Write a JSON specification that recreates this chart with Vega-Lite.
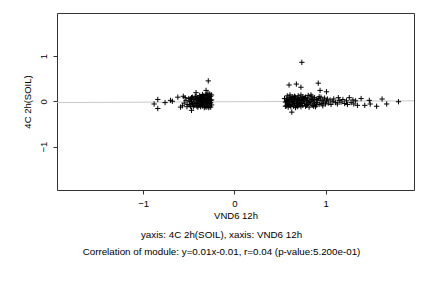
{
  "$schema": "https://vega.github.io/schema/vega-lite/v6.json",
  "width": 357,
  "height": 177,
  "autosize": {"type": "none"},
  "padding": {"left": 57, "top": 13, "right": 18, "bottom": 98},
  "background": "white",
  "config": {
    "view": {"stroke": "#333333", "strokeWidth": 1},
    "font": "Liberation Sans",
    "axis": {"labelFont": "Liberation Sans", "titleFont": "Liberation Sans", "labelFontSize": 9.5, "titleFontSize": 9.5, "titleFontWeight": "normal", "labelColor": "black", "titleColor": "black", "grid": false, "domain": false, "tickColor": "#333333", "tickSize": 4}
  },
  "title": {
    "text": "yaxis: 4C 2h(SOIL), xaxis: VND6 12h",
    "subtitle": "Correlation of module: y=0.01x-0.01, r=0.04 (p-value:5.200e-01)",
    "orient": "bottom",
    "anchor": "middle",
    "dx": -14,
    "offset": 10,
    "font": "Liberation Sans",
    "subtitleFont": "Liberation Sans",
    "fontSize": 9.8,
    "subtitleFontSize": 9.8,
    "fontWeight": "normal",
    "color": "black",
    "subtitleColor": "black",
    "subtitlePadding": 7
  },
  "layer": [
    {
      "data": {"values": [{"x": -1.945, "y": -0.0295}, {"x": 1.97, "y": 0.0097}]},
      "mark": {"type": "line", "color": "#c8c8c8", "strokeWidth": 1, "clip": true},
      "encoding": {
        "x": {"field": "x", "type": "quantitative"},
        "y": {"field": "y", "type": "quantitative"}
      }
    },
    {
      "data": {"values": [
        {"x": -0.286, "y": 0.45}, {"x": -0.84, "y": 0.04}, {"x": -0.88, "y": -0.06}, {"x": -0.84, "y": -0.16}, {"x": -0.76, "y": -0.03}, {"x": -0.70, "y": 0.02}, {"x": -0.68, "y": 0.0}, {"x": -0.62, "y": 0.09}, {"x": -0.56, "y": 0.11}, {"x": -0.42, "y": 0.19}, {"x": -0.31, "y": 0.24}, {"x": -0.47, "y": -0.20},
        {"x": -0.26, "y": 0.02}, {"x": -0.27, "y": -0.05}, {"x": -0.28, "y": 0.10}, {"x": -0.29, "y": -0.12}, {"x": -0.30, "y": 0.05}, {"x": -0.31, "y": -0.08}, {"x": -0.32, "y": 0.13}, {"x": -0.33, "y": -0.03}, {"x": -0.34, "y": 0.07}, {"x": -0.35, "y": -0.10}, {"x": -0.36, "y": 0.01}, {"x": -0.37, "y": 0.09}, {"x": -0.38, "y": -0.06}, {"x": -0.39, "y": 0.03}, {"x": -0.40, "y": -0.13}, {"x": -0.41, "y": 0.06}, {"x": -0.42, "y": -0.02}, {"x": -0.43, "y": 0.11}, {"x": -0.44, "y": -0.09}, {"x": -0.45, "y": 0.04}, {"x": -0.46, "y": -0.05}, {"x": -0.47, "y": 0.08}, {"x": -0.48, "y": -0.11}, {"x": -0.49, "y": 0.00}, {"x": -0.50, "y": 0.06}, {"x": -0.51, "y": -0.07}, {"x": -0.52, "y": -0.12}, {"x": -0.53, "y": 0.02}, {"x": -0.55, "y": -0.04}, {"x": -0.57, "y": -0.10}, {"x": -0.59, "y": -0.13}, {"x": -0.54, "y": 0.08},
        {"x": -0.25, "y": 0.14}, {"x": -0.25, "y": -0.08}, {"x": -0.26, "y": 0.11}, {"x": -0.26, "y": -0.13}, {"x": -0.27, "y": 0.16}, {"x": -0.27, "y": 0.04}, {"x": -0.28, "y": -0.02}, {"x": -0.28, "y": -0.14}, {"x": -0.29, "y": 0.07}, {"x": -0.29, "y": 0.18}, {"x": -0.30, "y": -0.06}, {"x": -0.30, "y": 0.12}, {"x": -0.31, "y": 0.01}, {"x": -0.31, "y": 0.15}, {"x": -0.32, "y": -0.11}, {"x": -0.32, "y": 0.03}, {"x": -0.33, "y": 0.09}, {"x": -0.33, "y": -0.14}, {"x": -0.34, "y": -0.04}, {"x": -0.34, "y": 0.12}, {"x": -0.35, "y": 0.05}, {"x": -0.35, "y": 0.15}, {"x": -0.36, "y": -0.07}, {"x": -0.36, "y": 0.10}, {"x": -0.37, "y": -0.01}, {"x": -0.37, "y": -0.12}, {"x": -0.38, "y": 0.06}, {"x": -0.38, "y": 0.13}, {"x": -0.39, "y": -0.09}, {"x": -0.39, "y": 0.00}, {"x": -0.40, "y": 0.08}, {"x": -0.40, "y": 0.02}, {"x": -0.41, "y": -0.05}, {"x": -0.41, "y": -0.11}, {"x": -0.42, "y": 0.10}, {"x": -0.43, "y": -0.06}, {"x": -0.44, "y": 0.03}, {"x": -0.45, "y": -0.12}, {"x": -0.46, "y": 0.09}, {"x": -0.47, "y": -0.02}, {"x": -0.48, "y": 0.05}, {"x": -0.49, "y": -0.08}, {"x": -0.25, "y": 0.03}, {"x": -0.26, "y": -0.03}, {"x": -0.27, "y": -0.10}, {"x": -0.28, "y": 0.06}, {"x": -0.29, "y": -0.04}, {"x": -0.30, "y": 0.00}, {"x": -0.31, "y": -0.13}, {"x": -0.33, "y": 0.02}, {"x": -0.35, "y": -0.02}, {"x": -0.37, "y": 0.04},
        {"x": 0.74, "y": 0.86}, {"x": 0.60, "y": 0.36}, {"x": 0.68, "y": 0.38}, {"x": 0.73, "y": 0.31}, {"x": 0.92, "y": 0.40}, {"x": 0.94, "y": 0.24}, {"x": 1.01, "y": 0.21}, {"x": 0.63, "y": -0.24}, {"x": 1.80, "y": -0.01}, {"x": 1.67, "y": -0.06}, {"x": 1.62, "y": 0.05}, {"x": 1.56, "y": -0.11}, {"x": 1.49, "y": -0.06}, {"x": 1.48, "y": 0.02}, {"x": 1.39, "y": 0.06}, {"x": 1.43, "y": -0.09}, {"x": 1.33, "y": 0.01}, {"x": 1.35, "y": -0.09}, {"x": 1.26, "y": 0.08}, {"x": 1.14, "y": 0.08},
        {"x": 0.56, "y": -0.02}, {"x": 0.57, "y": 0.05}, {"x": 0.57, "y": -0.10}, {"x": 0.58, "y": 0.12}, {"x": 0.58, "y": -0.06}, {"x": 0.59, "y": 0.01}, {"x": 0.59, "y": -0.13}, {"x": 0.60, "y": 0.08}, {"x": 0.60, "y": -0.04}, {"x": 0.61, "y": 0.14}, {"x": 0.61, "y": -0.09}, {"x": 0.62, "y": 0.03}, {"x": 0.62, "y": -0.12}, {"x": 0.63, "y": 0.06}, {"x": 0.63, "y": -0.03}, {"x": 0.64, "y": 0.10}, {"x": 0.64, "y": -0.07}, {"x": 0.65, "y": 0.00}, {"x": 0.65, "y": -0.11}, {"x": 0.66, "y": 0.04}, {"x": 0.66, "y": -0.05}, {"x": 0.67, "y": 0.09}, {"x": 0.67, "y": -0.14}, {"x": 0.68, "y": 0.02}, {"x": 0.68, "y": -0.08}, {"x": 0.69, "y": 0.06}, {"x": 0.69, "y": -0.02}, {"x": 0.70, "y": 0.12}, {"x": 0.70, "y": -0.10}, {"x": 0.71, "y": 0.01}, {"x": 0.71, "y": -0.06}, {"x": 0.72, "y": 0.08}, {"x": 0.72, "y": -0.03}, {"x": 0.73, "y": 0.14}, {"x": 0.73, "y": -0.12}, {"x": 0.74, "y": 0.04}, {"x": 0.74, "y": -0.05}, {"x": 0.75, "y": 0.10}, {"x": 0.75, "y": -0.09}, {"x": 0.76, "y": 0.00}, {"x": 0.76, "y": 0.06}, {"x": 0.77, "y": -0.04}, {"x": 0.78, "y": 0.09}, {"x": 0.78, "y": -0.11}, {"x": 0.79, "y": 0.02}, {"x": 0.80, "y": -0.07}, {"x": 0.80, "y": 0.05}, {"x": 0.81, "y": 0.13}, {"x": 0.82, "y": -0.02}, {"x": 0.82, "y": -0.13}, {"x": 0.83, "y": 0.07}, {"x": 0.84, "y": -0.06}, {"x": 0.85, "y": 0.03}, {"x": 0.85, "y": 0.11}, {"x": 0.86, "y": -0.09}, {"x": 0.87, "y": 0.01}, {"x": 0.88, "y": -0.04}, {"x": 0.88, "y": 0.08}, {"x": 0.89, "y": -0.12}, {"x": 0.90, "y": 0.04}, {"x": 0.91, "y": -0.03}, {"x": 0.92, "y": 0.06}, {"x": 0.93, "y": -0.07}, {"x": 0.94, "y": 0.02}, {"x": 0.95, "y": 0.09}, {"x": 0.96, "y": -0.05}, {"x": 0.97, "y": 0.03}, {"x": 0.98, "y": -0.02}, {"x": 0.99, "y": 0.07}, {"x": 1.00, "y": -0.06}, {"x": 1.01, "y": 0.01}, {"x": 1.02, "y": 0.05}, {"x": 1.03, "y": -0.04}, {"x": 1.05, "y": 0.03}, {"x": 1.06, "y": -0.07}, {"x": 1.08, "y": 0.00}, {"x": 1.09, "y": 0.05}, {"x": 1.11, "y": -0.03}, {"x": 1.13, "y": -0.06}, {"x": 1.15, "y": 0.02}, {"x": 1.17, "y": -0.02}, {"x": 1.19, "y": 0.04}, {"x": 1.21, "y": -0.05}, {"x": 1.23, "y": 0.01}, {"x": 1.24, "y": -0.07}, {"x": 1.28, "y": -0.03}, {"x": 1.30, "y": 0.03}, {"x": 1.31, "y": -0.06},
        {"x": 0.55, "y": 0.06}, {"x": 0.56, "y": -0.11}, {"x": 0.58, "y": 0.02}, {"x": 0.60, "y": -0.07}, {"x": 0.62, "y": 0.09}, {"x": 0.64, "y": -0.01}, {"x": 0.66, "y": 0.11}, {"x": 0.68, "y": -0.05}, {"x": 0.70, "y": 0.04}, {"x": 0.72, "y": -0.08}, {"x": 0.74, "y": 0.01}, {"x": 0.77, "y": 0.07}, {"x": 0.79, "y": -0.09}, {"x": 0.83, "y": -0.01}, {"x": 0.86, "y": 0.04}, {"x": 0.90, "y": -0.08}, {"x": 0.57, "y": 0.00}, {"x": 0.61, "y": 0.04}, {"x": 0.65, "y": 0.07}, {"x": 0.69, "y": -0.12}, {"x": 0.73, "y": 0.03}, {"x": 0.81, "y": -0.03}, {"x": 0.84, "y": 0.14}, {"x": 0.87, "y": -0.11}, {"x": 0.93, "y": 0.10}, {"x": 0.97, "y": -0.10}
      ]},
      "mark": {"type": "point", "shape": "M-1,0H1M0,-1V1", "filled": false, "stroke": "black", "strokeWidth": 1, "size": 28, "opacity": 1},
      "encoding": {
        "x": {"field": "x", "type": "quantitative", "scale": {"domain": [-1.945, 1.97], "nice": false, "zero": false},
              "axis": {"values": [-1, 0, 1], "title": "VND6 12h", "titlePadding": 3, "labelPadding": 4, "format": "d"}},
        "y": {"field": "y", "type": "quantitative", "scale": {"domain": [-1.96, 1.95], "nice": false, "zero": false},
              "axis": {"values": [-1, 0, 1], "title": "4C 2h(SOIL)", "labelAngle": 270, "labelAlign": "center", "labelBaseline": "bottom", "labelPadding": 5, "titlePadding": 6, "format": "d"}}
      }
    }
  ]
}
